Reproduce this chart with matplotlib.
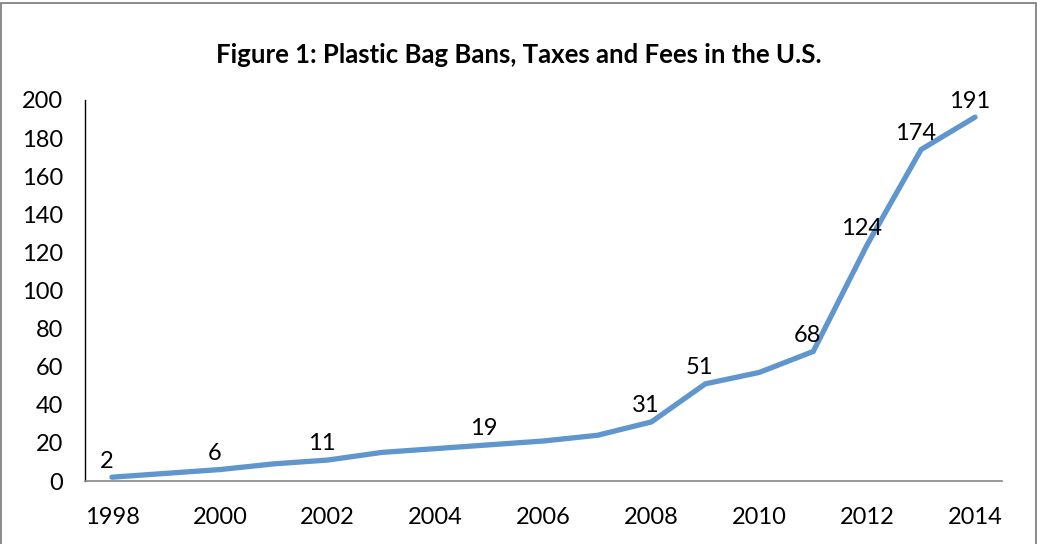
import matplotlib.pyplot as plt
from matplotlib.patches import Rectangle

# data
years = [1998, 1999, 2000, 2001, 2002, 2003, 2004, 2005, 2006,
         2007, 2008, 2009, 2010, 2011, 2012, 2013, 2014]
counts = [2, 4, 6, 9, 11, 15, 17, 19, 21, 24, 31, 51, 57, 68, 124, 174, 191]
labelled_years = [1998, 2000, 2002, 2005, 2008, 2009, 2011, 2012, 2013, 2014]
year_ticks = [1998, 2000, 2002, 2004, 2006, 2008, 2010, 2012, 2014]
y_ticks = list(range(0, 201, 20))

plt.rcParams['font.family'] = ['Lato', 'DejaVu Sans']

fig = plt.figure(figsize=(10.37, 5.44), dpi=100)
ax = fig.add_axes([85 / 1037, 1 - 481 / 544, (1002 - 85) / 1037, (481 - 100) / 544])

ax.plot(years, counts, color='#6096CE', linewidth=3.8, solid_capstyle='round',
        solid_joinstyle='miter')

for yr, val in zip(years, counts):
    if yr in labelled_years:
        ax.annotate(str(val), (yr, val), xytext=(-4, 4), textcoords='offset points',
                    ha='center', va='bottom', fontsize=17, color='black')

ax.set_xlim(1997.5, 2014.5)
ax.set_ylim(0, 200)
ax.set_xticks(year_ticks)
ax.set_xticklabels([str(y) for y in year_ticks])
ax.set_yticks(y_ticks)
ax.tick_params(axis='both', length=0, labelsize=17)
ax.tick_params(axis='x', pad=19)
ax.tick_params(axis='y', pad=16)

ax.spines['top'].set_visible(False)
ax.spines['right'].set_visible(False)
ax.spines['left'].set_color('black')
ax.spines['left'].set_linewidth(1.0)
ax.spines['bottom'].set_color('#888888')
ax.spines['bottom'].set_linewidth(1.2)

fig.text(0.5, 1 - 55 / 544, 'Figure 1: Plastic Bag Bans, Taxes and Fees in the U.S.',
         ha='center', va='center', fontsize=18.5, fontweight='bold')

# outer frame (bottom edge runs off the image)
fig.patches.append(Rectangle((0.5 / 1037, -0.05), 1 - 2 / 1037, 1.05 - 3 / 544,
                             transform=fig.transFigure, fill=False,
                             edgecolor='#777777', linewidth=1.2))

fig.savefig('out.png', dpi=100)
